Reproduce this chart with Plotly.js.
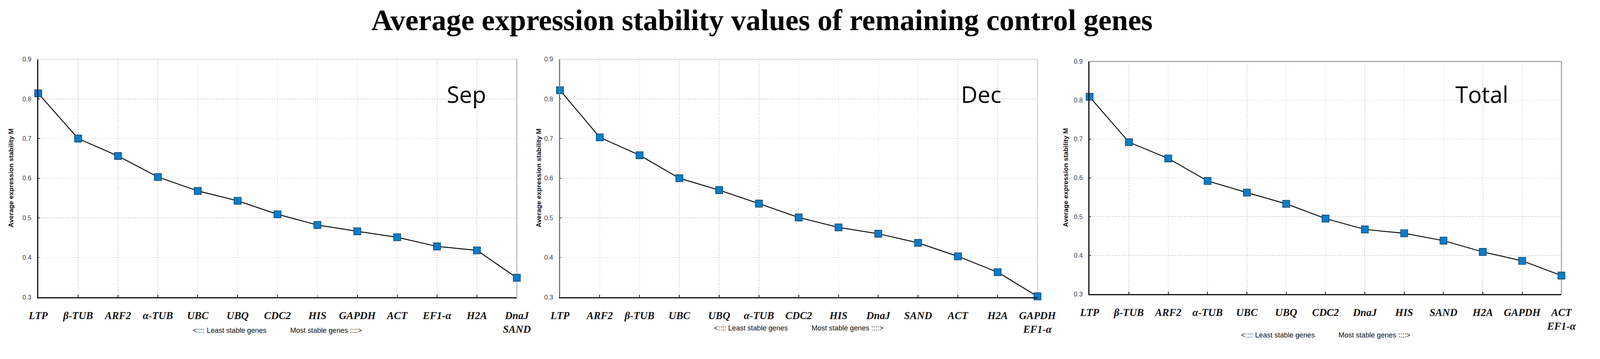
<!DOCTYPE html>
<html>
<head>
<meta charset="utf-8">
<script src="https://cdn.plot.ly/plotly-3.0.1.min.js"></script>
<style>html,body{margin:0;padding:0;background:#fff;overflow:hidden;}#chart{width:4269px;height:918px;transform-origin:0 0;}</style>
</head>
<body>
<div id="chart"></div>
<script>
// ---- data ----
const sepGenes = ['LTP','β-TUB','ARF2','α-TUB','UBC','UBQ','CDC2','HIS','GAPDH','ACT','EF1-α','H2A','DnaJ<br>SAND'];
const sepM = [0.814,0.700,0.656,0.603,0.568,0.543,0.509,0.482,0.466,0.451,0.428,0.418,0.349];

const decGenes = ['LTP','ARF2','β-TUB','UBC','UBQ','α-TUB','CDC2','HIS','DnaJ','SAND','ACT','H2A','GAPDH<br>EF1-α'];
const decM = [0.822,0.703,0.658,0.600,0.570,0.536,0.501,0.476,0.460,0.437,0.403,0.363,0.302];

const totalGenes = ['LTP','β-TUB','ARF2','α-TUB','UBC','UBQ','CDC2','DnaJ','HIS','SAND','H2A','GAPDH','ACT<br>EF1-α'];
const totalM = [0.809,0.692,0.650,0.592,0.562,0.533,0.495,0.467,0.457,0.438,0.409,0.386,0.348];

const panelNames = ['Sep','Dec','Total'];
const yTickVals = [0.3,0.4,0.5,0.6,0.7,0.8,0.9];
const yTickText = ['0.3','0.4','0.5','0.6','0.7','0.8','0.9'];
const yTitle = 'Average expression stability M';
const xNote = '<:::: Least stable genes' + '\u00A0'.repeat(12) + 'Most stable genes ::::>';
const mainTitle = 'Average expression stability values of remaining control genes';

// ---- fit the 4269x918 design into the actual viewport ----
const W = 4269, H = 918;
(function fit() {
  const vw = window.innerWidth || W, vh = window.innerHeight || H;
  const s = Math.min(vw / W, vh / H);
  if (Math.abs(s - 1) > 0.002) {
    document.getElementById('chart').style.transform = 'scale(' + s + ')';
  }
})();

// ---- traces ----
function mkTrace(x, y, n) {
  const s = n === 1 ? '' : String(n);
  return {
    type: 'scatter', mode: 'lines+markers', x: x, y: y,
    xaxis: 'x' + s, yaxis: 'y' + s,
    line: {color: '#111', width: 2.6},
    marker: {symbol: 'square', size: 19, color: '#0b7dc8', line: {color: '#0a3658', width: 1.4}},
    cliponaxis: false, showlegend: false, hoverinfo: 'x+y'
  };
}
const data = [mkTrace(sepGenes, sepM, 1), mkTrace(decGenes, decM, 2), mkTrace(totalGenes, totalM, 3)];

// ---- layout ----
const xDomains = [[0.0239, 0.3230], [0.3500, 0.6484], [0.6810, 0.9759]];
const yDomains = [[0.1373, 0.8279], [0.1373, 0.8279], [0.1460, 0.8214]];
const yLineColors = ['#111', '#777', '#111'];
const borderColors = [['#e6e6e6', '#bdbdbd'], ['#dedede', '#d6d6d6'], ['#aaaaaa', '#aaaaaa']];

function xAxis(i) {
  return {
    domain: xDomains[i], anchor: i === 0 ? 'y' : 'y' + (i + 1),
    type: 'category', range: [0, 12], fixedrange: true,
    showline: true, linecolor: '#111', linewidth: 3,
    showgrid: true, gridcolor: '#cfcfcf', griddash: 'dot', gridwidth: 1.5,
    ticks: 'inside', ticklen: 6, tickwidth: 2, tickcolor: '#111',
    ticklabelstandoff: 22,
    tickfont: {family: 'Liberation Serif, Times New Roman, serif', size: 28, color: '#151515', weight: 'bold', style: 'italic'},
    zeroline: false
  };
}
function yAxis(i) {
  return {
    domain: yDomains[i], anchor: i === 0 ? 'x' : 'x' + (i + 1),
    range: [0.3, 0.9], tickmode: 'array', tickvals: yTickVals, ticktext: yTickText,
    showline: true, linecolor: yLineColors[i], linewidth: 3,
    showgrid: true, gridcolor: '#cfcfcf', griddash: 'dot', gridwidth: 1.5,
    ticks: 'inside', ticklen: 4, tickwidth: 2, tickcolor: '#333',
    ticklabelstandoff: 12,
    tickfont: {family: 'Liberation Sans, Arial, sans-serif', size: 17, color: '#3a4150'},
    zeroline: false, fixedrange: true
  };
}

const yTitleX = [29, 1437, 2843];
const panelLabelX = [1244, 2618, 3953];
const noteY = [880, 874, 892];

const annotations = [];
const shapes = [];
for (let i = 0; i < 3; i++) {
  const s = i === 0 ? '' : String(i + 1);
  annotations.push({
    text: yTitle, textangle: -90, xref: 'paper', yref: 'y' + s + ' domain',
    x: yTitleX[i] / W, y: 0.5, xanchor: 'center', yanchor: 'middle', showarrow: false,
    font: {family: 'Liberation Sans, Arial, sans-serif', size: 18, color: '#111', weight: 'bold'}
  });
  annotations.push({
    text: panelNames[i], xref: 'paper', yref: 'paper',
    x: panelLabelX[i] / W, y: 1 - 250 / H, xanchor: 'center', yanchor: 'middle', showarrow: false,
    font: {family: 'Open Sans, Noto Sans, sans-serif', size: 61, color: '#000'}
  });
  annotations.push({
    text: xNote, xref: 'x' + s + ' domain', yref: 'paper',
    x: 0.5, y: 1 - noteY[i] / H, xanchor: 'center', yanchor: 'middle', showarrow: false,
    font: {family: 'Liberation Sans, Arial, sans-serif', size: 19, color: '#111'}
  });
  shapes.push({type: 'line', xref: 'x' + s + ' domain', yref: 'y' + s + ' domain', x0: 0, x1: 1, y0: 1, y1: 1,
    line: {color: borderColors[i][0], width: 3}, layer: 'below'});
  shapes.push({type: 'line', xref: 'x' + s + ' domain', yref: 'y' + s + ' domain', x0: 1, x1: 1, y0: 0, y1: 1,
    line: {color: borderColors[i][1], width: 3}, layer: 'below'});
}

const layout = {
  width: W, height: H,
  margin: {l: 0, r: 0, t: 0, b: 0},
  paper_bgcolor: '#fff', plot_bgcolor: '#fff',
  showlegend: false,
  title: {
    text: mainTitle, x: 2033 / W, xanchor: 'center', y: 1 - 53 / H, yanchor: 'middle',
    xref: 'paper', yref: 'paper',
    font: {family: 'Liberation Serif, Times New Roman, serif', size: 79, color: '#000', weight: 'bold'}
  },
  xaxis: xAxis(0), xaxis2: xAxis(1), xaxis3: xAxis(2),
  yaxis: yAxis(0), yaxis2: yAxis(1), yaxis3: yAxis(2),
  annotations: annotations, shapes: shapes
};

Plotly.newPlot('chart', data, layout, {displayModeBar: false, staticPlot: true});
</script>
</body>
</html>
